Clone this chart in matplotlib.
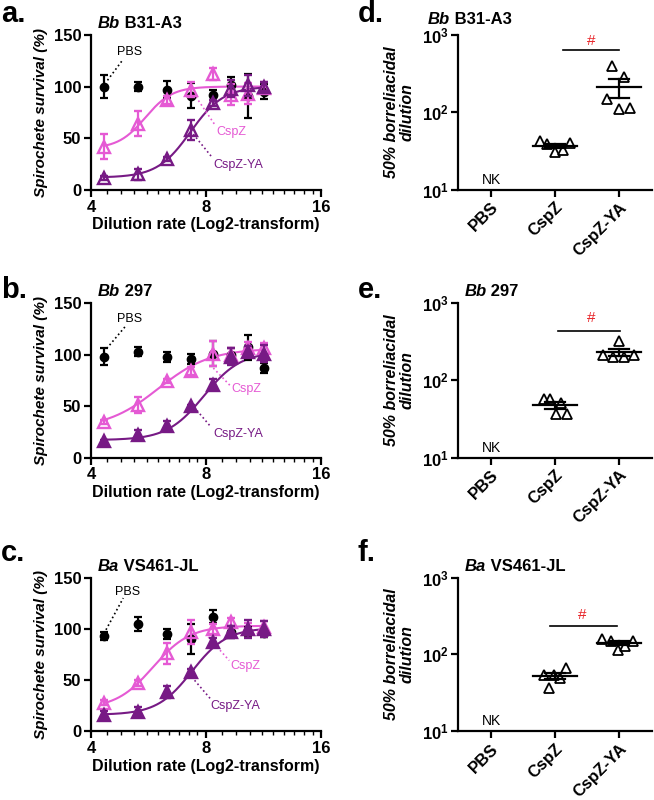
import matplotlib
matplotlib.use('Agg')
import matplotlib.pyplot as plt
import numpy as np
from matplotlib.ticker import LogLocator, NullFormatter, NullLocator

plt.rcParams['font.family'] = ['Liberation Sans', 'DejaVu Sans']
plt.rcParams['mathtext.fontset'] = 'custom'
plt.rcParams['mathtext.rm'] = 'Liberation Sans'
plt.rcParams['mathtext.bf'] = 'Liberation Sans:bold'

PINK = '#E55AD4'
PURPLE = '#771A85'
RED = '#E8262A'

# ---- survival curves (a-c) ----
dilution = [4.32, 5.32, 6.32, 7.32, 8.32, 9.32, 10.32, 11.32]

pbs_a = [100, 100, 97, 91, 92, 101, 91, 95]
pbs_a_err = [11, 4, 8, 12, 5, 8, 21, 7]
cspz_a = [42, 64, 87, 97, 112, 92, 93, 99]
cspz_a_err = [12, 12, 4, 7, 6, 10, 10, 5]
ya_a = [12, 15, 30, 58, 84, 98, 101, 100]
ya_a_err = [2, 5, 2, 10, 3, 8, 10, 4]

pbs_b = [98, 103, 98, 96, 101, 100, 107, 87]
pbs_b_err = [8, 4, 5, 5, 12, 6, 12, 5]
cspz_b = [35, 51, 74, 84, 101, 100, 106, 106]
cspz_b_err = [2, 8, 2, 4, 12, 6, 6, 5]
ya_b = [16, 22, 31, 50, 71, 98, 103, 101]
ya_b_err = [1, 5, 5, 1, 5, 8, 5, 8]

pbs_c = [93, 105, 95, 90, 112, 97, 97, 96]
pbs_c_err = [4, 7, 5, 15, 6, 6, 5, 4]
cspz_c = [28, 47, 76, 97, 100, 107, 100, 102]
cspz_c_err = [2, 3, 10, 12, 5, 4, 6, 6]
ya_c = [16, 19, 38, 58, 87, 97, 100, 100]
ya_c_err = [4, 5, 6, 3, 4, 6, 9, 8]

# fitted 4PL curves: bottom, top, x50, hill slope
fit_cspz_a = [40, 100, 5.55, 12.3]
fit_ya_a = [12, 100, 7.28, 10]
fit_cspz_b = [28, 106, 6.0, 6.4]
fit_ya_b = [17, 103, 7.9, 9]
fit_cspz_c = [22, 103, 5.81, 9]
fit_ya_c = [16, 101, 7.35, 9.5]

# ---- borreliacidal titers (d-f) ----
groups = ['PBS', 'CspZ', 'CspZ-YA']
titer_cspz_d = [43, 39, 31, 33, 40]
titer_ya_d = [393, 290, 148, 112, 114]
titer_cspz_e = [57, 58, 51, 36.5, 37]
titer_ya_e = [327, 213, 199, 199, 213]
titer_cspz_f = [54, 54, 67, 50, 36]
titer_ya_f = [159, 151, 113, 130, 151]

# scatter spread of the points inside each column
jit_cspz_d = [-0.24, -0.12, 0.0, 0.12, 0.24]
jit_ya_d = [-0.10, 0.08, -0.19, 0.0, 0.18]
jit_cspz_e = [-0.17, -0.07, 0.09, 0.01, 0.19]
jit_ya_e = [0.0, -0.24, -0.09, 0.08, 0.24]
jit_cspz_f = [-0.17, -0.02, 0.17, 0.08, -0.09]
jit_ya_f = [-0.26, -0.13, -0.02, 0.10, 0.22]


def hill(x, p):
    bottom, top, x50, h = p
    return bottom + (top - bottom) / (1 + (x50 / x) ** h)


def style_axes(ax):
    for s in ['top', 'right']:
        ax.spines[s].set_visible(False)
    for s in ['left', 'bottom']:
        ax.spines[s].set_linewidth(1.6)
    ax.tick_params(which='major', direction='out', length=5, width=1.6,
                   labelsize=12, pad=2)
    ax.tick_params(which='minor', direction='out', length=3, width=1.0)
    for lab in ax.get_xticklabels() + ax.get_yticklabels():
        lab.set_fontweight('bold')


def add_title(ax, species, strain, x, y):
    t = ax.text(x, y, species, transform=ax.transAxes, fontsize=12,
                fontweight='bold', fontstyle='italic', va='baseline')
    ax.annotate(' ' + strain, xy=(1, 0), xycoords=t, fontsize=12,
                fontweight='bold', va='bottom')


def survival_panel(ax, pbs, pbs_err, cspz, cspz_err, ya, ya_err,
                   fit_cspz, fit_ya, ya_filled, ann):
    xs = np.geomspace(dilution[0], dilution[-1], 200)
    ax.plot(xs, hill(xs, fit_cspz), color=PINK, lw=1.5, zorder=2)
    ax.plot(xs, hill(xs, fit_ya), color=PURPLE, lw=1.5, zorder=2)

    ax.errorbar(dilution, pbs, yerr=pbs_err, fmt='o', color='black', ms=6,
                capsize=3, elinewidth=1.6, capthick=1.6, zorder=3)
    ax.errorbar(dilution, cspz, yerr=cspz_err, fmt='^', color=PINK,
                mfc='none', mec=PINK, ms=8, mew=1.7,
                capsize=3, elinewidth=1.6, capthick=1.6, zorder=4)
    ax.errorbar(dilution, ya, yerr=ya_err, fmt='^', color=PURPLE,
                mfc=PURPLE if ya_filled else 'none', mec=PURPLE, ms=8, mew=1.7,
                capsize=3, elinewidth=1.6, capthick=1.6, zorder=5)

    for name, col in [('PBS', 'black'), ('CspZ', PINK), ('CspZ-YA', PURPLE)]:
        (x0, y0), (x1, y1), (tx, ty), ha = ann[name]
        ax.plot([x0, x1], [y0, y1], ls=':', color=col, lw=1.2)
        ax.text(tx, ty, name, color=col, fontsize=9, ha=ha, va='center')

    ax.set_xscale('log', base=2)
    ax.set_xlim(4, 16)
    ax.set_ylim(0, 150)
    ax.set_xticks([4, 8, 16])
    ax.set_xticklabels(['4', '8', '16'])
    ax.xaxis.set_minor_locator(LogLocator(base=2, subs=np.arange(1.1, 2.0, 0.1)))
    ax.xaxis.set_minor_formatter(NullFormatter())
    ax.set_yticks([0, 50, 100, 150])
    ax.set_xlabel('Dilution rate (Log2-transform)', fontsize=11.5,
                  fontweight='bold', labelpad=2)
    ax.set_ylabel('Spirochete survival (%)', fontsize=11, fontweight='bold',
                  fontstyle='italic', labelpad=4)
    style_axes(ax)


def titer_panel(ax, cspz, ya, jit_c, jit_y, bar, hash_xy):
    for pos, vals, jit in [(1, cspz, jit_c), (2, ya, jit_y)]:
        vals = np.array(vals, dtype=float)
        ax.plot(pos + np.array(jit), vals, ls='', marker='^', ms=7.5,
                mfc='none', mec='black', mew=1.3, zorder=3)
        m = vals.mean()
        sem = vals.std(ddof=1) / np.sqrt(len(vals))
        ax.plot([pos - 0.34, pos + 0.34], [m, m], color='black', lw=1.6, zorder=4)
        ax.plot([pos, pos], [m - sem, m + sem], color='black', lw=1.6, zorder=4)
        for v in (m - sem, m + sem):
            ax.plot([pos - 0.16, pos + 0.16], [v, v], color='black', lw=1.6, zorder=4)
    ax.text(0, 13.5, 'NK', fontsize=10, ha='center', va='center')
    ax.plot([bar[0], bar[1]], [bar[2], bar[2]], color='black', lw=1.2)
    ax.text(hash_xy[0], hash_xy[1], '#', color=RED, fontsize=11,
            ha='center', va='center')

    ax.set_yscale('log')
    ax.set_ylim(10, 1000)
    ax.set_xlim(-0.51, 2.52)
    ax.set_yticks([10, 100, 1000])
    ax.set_yticklabels([r'$\mathbf{10^{1}}$', r'$\mathbf{10^{2}}$', r'$\mathbf{10^{3}}$'])
    ax.yaxis.set_minor_locator(NullLocator())
    ax.set_xticks([0, 1, 2])
    ax.set_xticklabels(groups, rotation=45, ha='right', rotation_mode='anchor')
    ax.set_ylabel('50% borreliacidal\ndilution', fontsize=11.5, fontweight='bold',
                  fontstyle='italic', labelpad=5, linespacing=1.05)
    style_axes(ax)


fig = plt.figure(figsize=(6.54, 8.0), dpi=100)

L_LEFT, L_W = 0.139, 0.352
R_LEFT, R_W = 0.701, 0.296
rows = [(0.7625, 0.194), (0.428, 0.193), (0.086, 0.192)]

ann_a = {'PBS': ((4.42, 106), (4.85, 126), (5.05, 133), 'center'),
         'CspZ': ((7.53, 90), (8.44, 63), (8.53, 56), 'left'),
         'CspZ-YA': ((7.41, 54), (8.28, 32), (8.36, 24), 'left')}
ann_b = {'PBS': ((4.40, 106), (4.91, 127), (5.05, 135), 'center'),
         'CspZ': ((8.36, 87), (9.25, 70), (9.34, 67), 'left'),
         'CspZ-YA': ((7.45, 49), (8.23, 30), (8.36, 23), 'left')}
ann_c = {'PBS': ((4.38, 99), (4.86, 130), (5.0, 136), 'center'),
         'CspZ': ((8.11, 92), (9.2, 69), (9.25, 64), 'left'),
         'CspZ-YA': ((7.34, 53), (8.2, 32), (8.23, 25), 'left')}

left_data = [
    (pbs_a, pbs_a_err, cspz_a, cspz_a_err, ya_a, ya_a_err, fit_cspz_a, fit_ya_a, False, ann_a,
     'Bb', 'B31-A3'),
    (pbs_b, pbs_b_err, cspz_b, cspz_b_err, ya_b, ya_b_err, fit_cspz_b, fit_ya_b, True, ann_b,
     'Bb', '297'),
    (pbs_c, pbs_c_err, cspz_c, cspz_c_err, ya_c, ya_c_err, fit_cspz_c, fit_ya_c, True, ann_c,
     'Ba', 'VS461-JL'),
]
right_data = [
    (titer_cspz_d, titer_ya_d, jit_cspz_d, jit_ya_d, (1.12, 2.0, 631), (1.57, 840), 'Bb', 'B31-A3', -0.16),
    (titer_cspz_e, titer_ya_e, jit_cspz_e, jit_ya_e, (1.05, 2.02, 440), (1.57, 640), 'Bb', '297', 0.03),
    (titer_cspz_f, titer_ya_f, jit_cspz_f, jit_ya_f, (0.93, 1.97, 237), (1.43, 330), 'Ba', 'VS461-JL', 0.03),
]
panel_letters = [('a.', 'd.'), ('b.', 'e.'), ('c.', 'f.')]
letter_y = [0.982, 0.637, 0.309]

for i, (bottom, height) in enumerate(rows):
    ax = fig.add_axes([L_LEFT, bottom, L_W, height])
    d = left_data[i]
    survival_panel(ax, *d[:10])
    add_title(ax, d[10], d[11], 0.03, 1.045)

    ax2 = fig.add_axes([R_LEFT, bottom, R_W, height])
    r = right_data[i]
    titer_panel(ax2, *r[:6])
    add_title(ax2, r[6], r[7], r[8], 1.07 if i == 0 else 1.045)

    fig.text(0.002, letter_y[i], panel_letters[i][0], fontsize=21,
             fontweight='bold', va='center')
    fig.text(0.547, letter_y[i], panel_letters[i][1], fontsize=21,
             fontweight='bold', va='center')

fig.savefig('out.png', dpi=100)
